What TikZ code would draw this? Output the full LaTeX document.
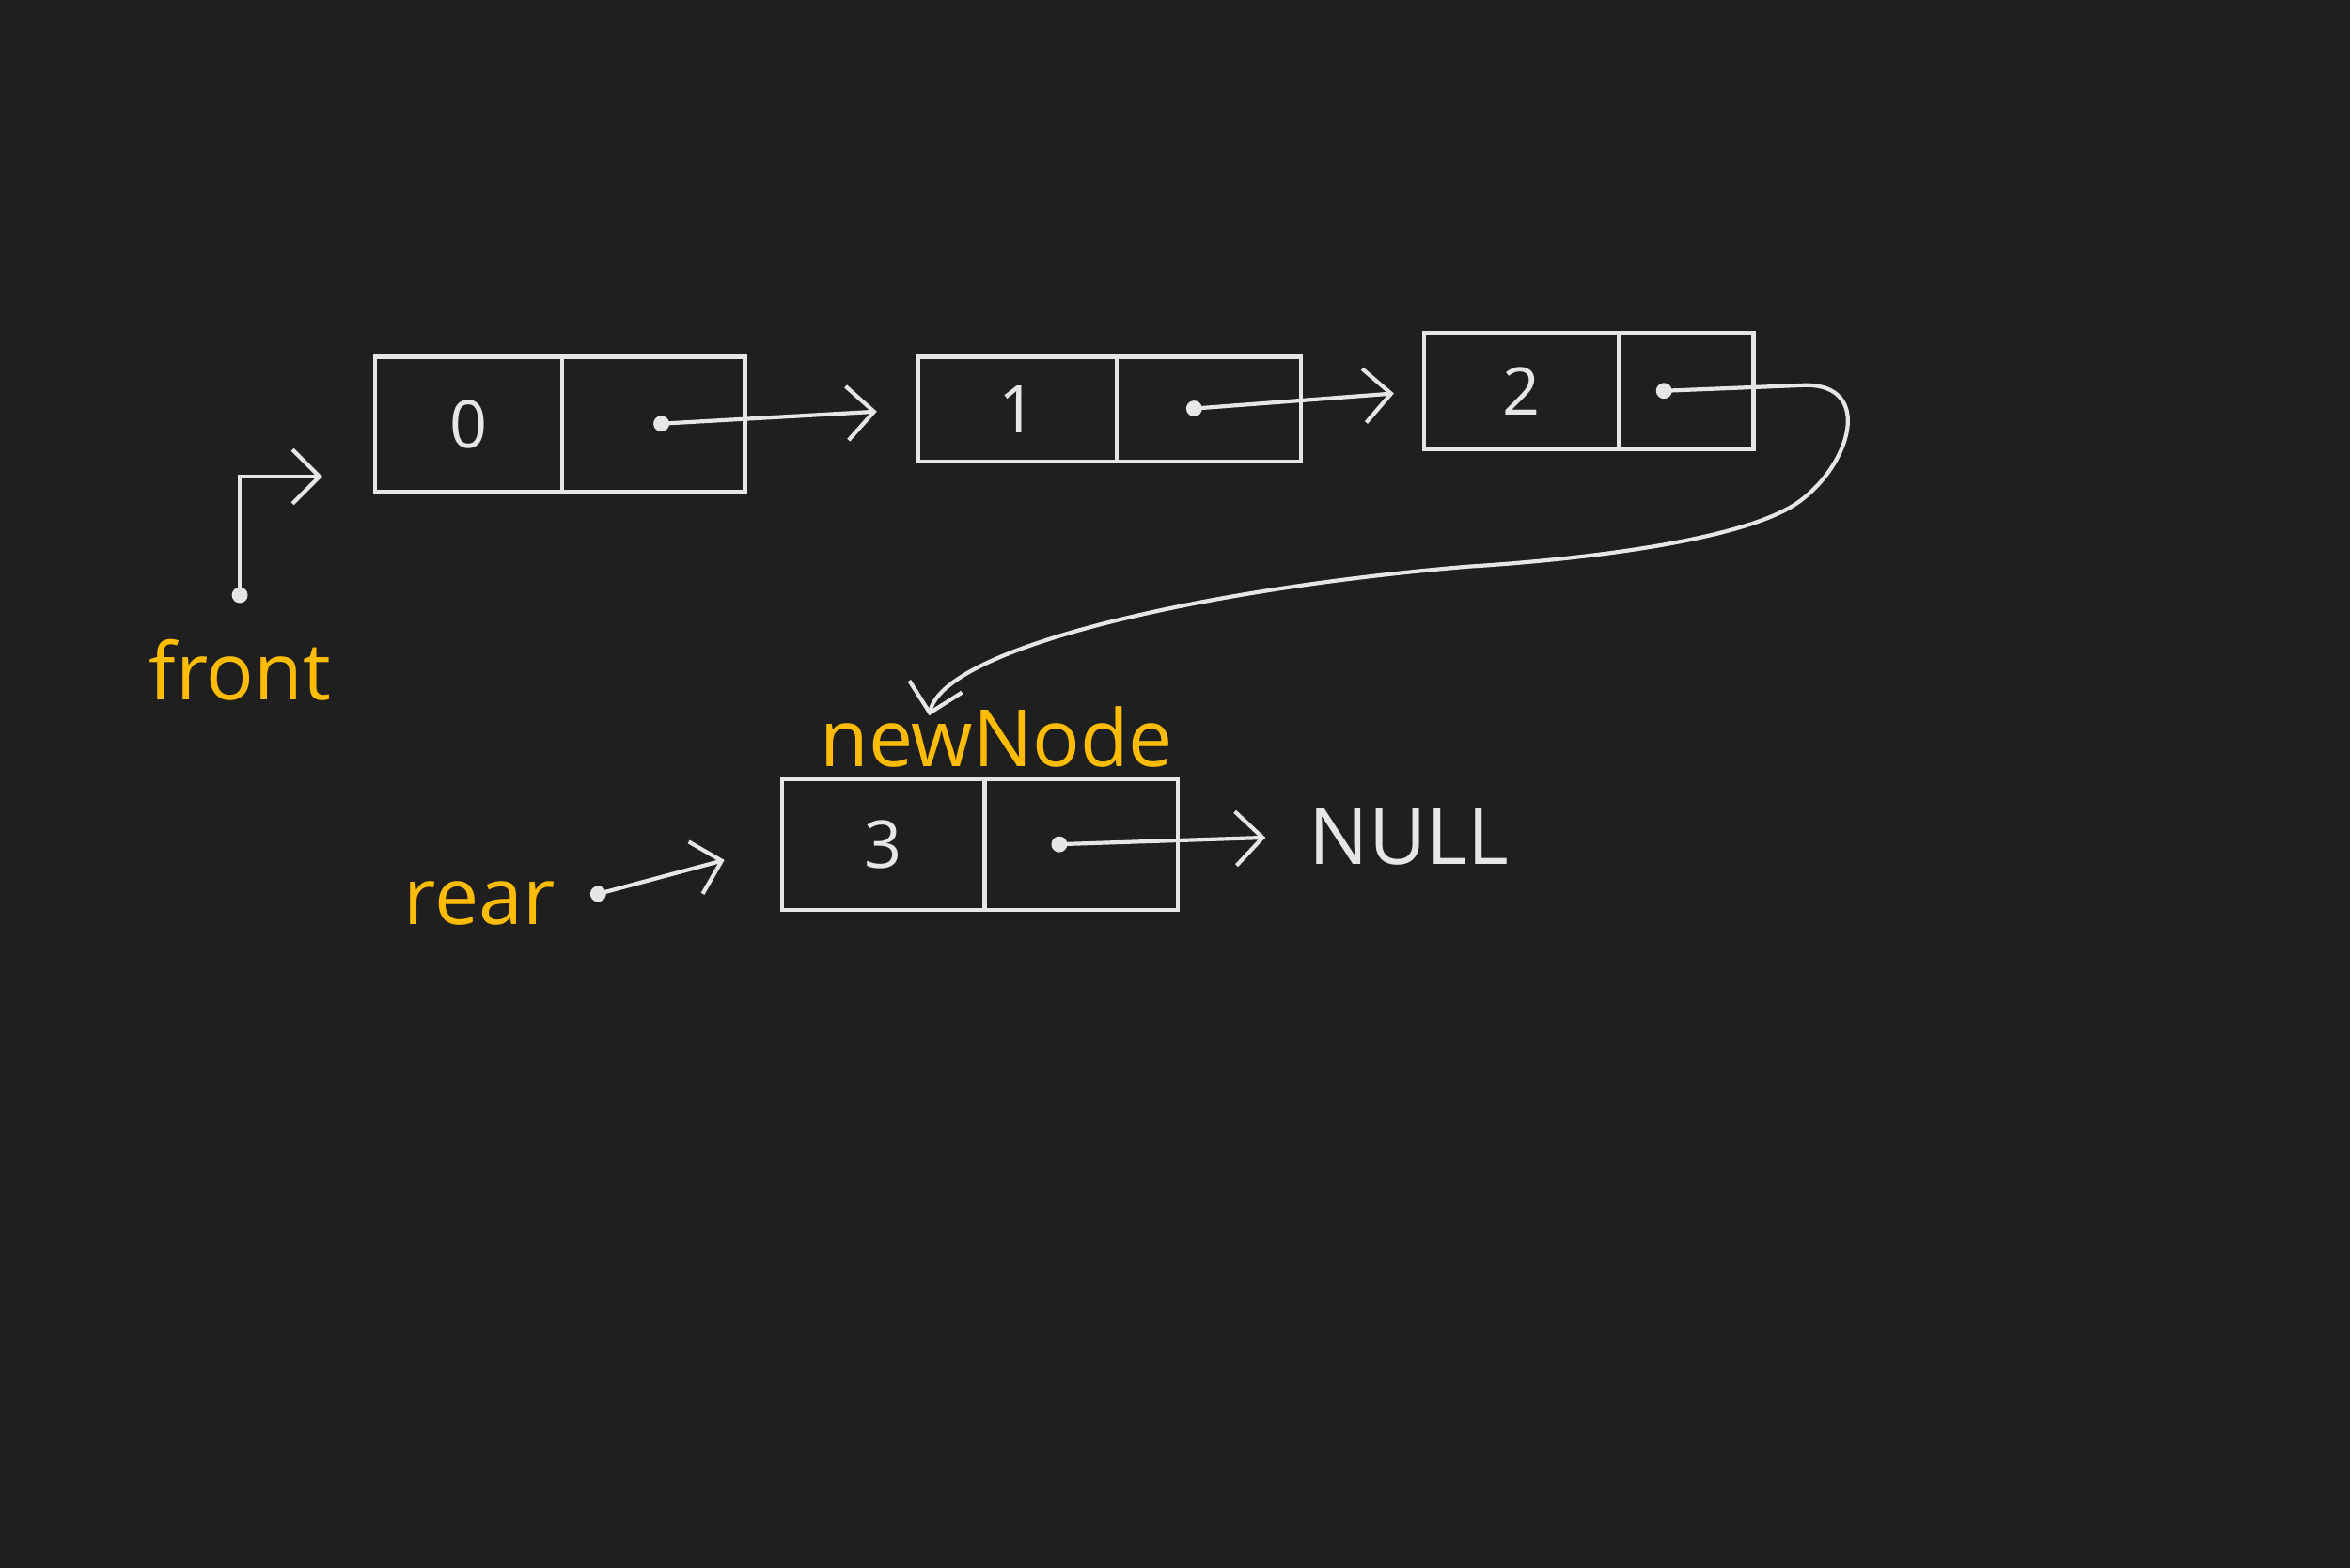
\documentclass[tikz,border=0pt]{standalone}
\usepackage{fontspec}
\setsansfont{Open Sans}
\usetikzlibrary{positioning,arrows.meta}
\definecolor{board}{HTML}{1F1F1F}
\definecolor{chalk}{HTML}{E6E6E6}
\definecolor{marker}{HTML}{FFBC00}

\begin{document}
\begin{tikzpicture}[
  cell/.style={draw=chalk, line width=0.75pt, inner sep=0pt, outer sep=0pt,
    text=chalk, font=\sffamily\fontsize{12.5}{15}\selectfont},
  tag/.style={text=marker, inner sep=1pt, font=\sffamily\fontsize{15}{18}\selectfont},
  word/.style={text=chalk, inner sep=1pt, font=\sffamily\fontsize{15}{18}\selectfont},
  ptr/.style={draw=chalk, line width=0.75pt,
    {Circle[length=3pt]}-{Straight Barb[length=1.8mm,width=3.6mm]}}
]
  \fill[board] (0,0) rectangle (15.68,10.46);
  \useasboundingbox (0,0) rectangle (15.68,10.46);

  % the queue as it was
  \node[cell, minimum width=12.5mm, minimum height=9mm] (d0) at (3.125,7.63) {0};
  \node[cell, minimum width=12.2mm, minimum height=9mm, right=0pt of d0] (n0) {};
  \node[cell, minimum width=13.2mm, minimum height=7mm] (d1) at (6.79,7.73) {1};
  \node[cell, minimum width=12.3mm, minimum height=7mm, right=0pt of d1] (n1) {};
  \node[cell, minimum width=13mm, minimum height=7.8mm] (d2) at (10.15,7.85) {2};
  \node[cell, minimum width=9mm, minimum height=7.8mm, right=0pt of d2] (n2) {};

  % the node that is added
  \node[cell, minimum width=13.5mm, minimum height=8.7mm] (d3) at (5.895,4.825) {3};
  \node[cell, minimum width=12.9mm, minimum height=8.7mm, right=0pt of d3] (n3) {};

  \node[tag] (front) at (1.6,5.99) {front};
  \node[tag] (rear) at (3.2,4.43) {rear};
  \node[tag] (newNode) at (6.65,5.54) {newNode};
  \node[word] (null) at (9.4,4.88) {NULL};

  \draw[ptr, shorten >=2.8mm] (n0.center) -- (d1.west);
  \draw[ptr, shorten >=2mm] ([xshift=-1.5mm]n1.center) -- (d2.west);
  \draw[ptr] ([xshift=-2mm]n2.center) -- ++(1,0.04)
    .. controls +(0.45,0) and +(0.35,0.25) .. ++(-0.05,-0.78)
    .. controls +(-0.35,-0.25) and +(0.8,0.05) .. ++(-2.2,-0.43)
    .. controls +(-1.8,-0.15) and +(0.1,0.45) .. ([xshift=-4.5mm,yshift=-1mm]newNode.north);
  \draw[ptr, shorten >=2.5mm] ([xshift=-2mm]n3.center) -- (null.west);

  \draw[ptr] ([yshift=2mm]front.north) |- ([xshift=-3.5mm,yshift=1mm]d0.south west);
  \draw[ptr, shorten <=2mm, shorten >=4mm] (rear.east) -- (d3.west);
\end{tikzpicture}
\end{document}
